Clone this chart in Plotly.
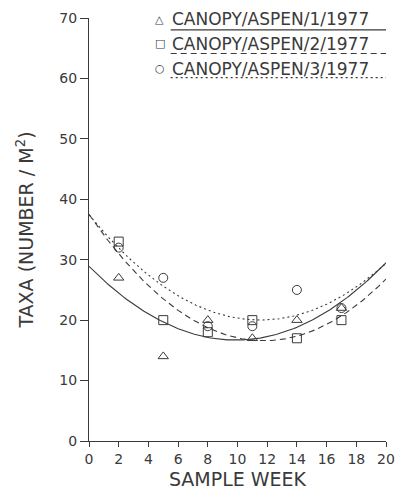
import numpy as np
import plotly.graph_objects as go

# Sample weeks and taxa counts for the three canopy/aspen plots (1977)
weeks = [2, 5, 8, 11, 14, 17]
aspen1 = [27, 14, 20, 17, 20, 22]
aspen2 = [33, 20, 18, 20, 17, 20]
aspen3 = [32, 27, 19, 19, 25, 22]

series_names = ["CANOPY/ASPEN/1/1977", "CANOPY/ASPEN/2/1977", "CANOPY/ASPEN/3/1977"]
x_ticks = list(range(0, 21, 2))
y_ticks = list(range(0, 71, 10))

INK = "#3a3a3a"
FONT = "DejaVu Sans"

series = [aspen1, aspen2, aspen3]
symbols = ["triangle-up-open", "square-open", "circle-open"]
dashes = ["solid", "6px,4px", "2px,3px"]
legend_glyphs = ["\u25b3", "\u25a1", "\u25cb"]

fig = go.Figure()

# Quadratic regression curve for each plot over the full week range
xfit = np.linspace(0, 20, 201)
for vals, dash in zip(series, dashes):
    coef = np.polyfit(weeks, vals, 2)
    fig.add_trace(go.Scatter(
        x=xfit, y=np.polyval(coef, xfit), mode="lines",
        line=dict(color=INK, width=1.1, dash=dash),
        showlegend=False, hoverinfo="skip"))

# Observed values
for vals, sym in zip(series, symbols):
    fig.add_trace(go.Scatter(
        x=weeks, y=vals, mode="markers",
        marker=dict(symbol=sym, size=9, color=INK, line=dict(width=1, color=INK)),
        showlegend=False))

# Hand-drawn style key: symbol, label and an underline in the curve's line style
row_y = [0.997, 0.939, 0.880]
line_y = [0.972, 0.916, 0.859]
for name, glyph, dash, ry, ly in zip(series_names, legend_glyphs, dashes, row_y, line_y):
    fig.add_annotation(x=0.238, y=ry, xref="paper", yref="paper", text=glyph,
                       showarrow=False, xanchor="center", yanchor="middle",
                       font=dict(family=FONT, size=11, color=INK))
    fig.add_annotation(x=0.272, y=ry, xref="paper", yref="paper", text=name,
                       showarrow=False, xanchor="left", yanchor="middle",
                       font=dict(family=FONT, size=17, color=INK))
    fig.add_shape(type="line", xref="paper", yref="paper",
                  x0=0.275, x1=1.0, y0=ly, y1=ly,
                  line=dict(color=INK, width=1.1, dash=dash))

fig.update_layout(
    width=405, height=496,
    margin=dict(l=89, r=10, t=16, b=54),
    paper_bgcolor="white", plot_bgcolor="white",
    font=dict(family=FONT, color=INK),
    xaxis=dict(range=[0, 20], tickvals=x_ticks, ticks="outside", ticklen=5,
               tickcolor=INK, showline=True, linecolor=INK, linewidth=1,
               showgrid=False, zeroline=False, tickfont=dict(size=14),
               title=dict(text="SAMPLE WEEK", font=dict(size=19), standoff=6)),
    yaxis=dict(range=[0, 70], tickvals=y_ticks, ticks="outside", ticklen=8,
               tickcolor=INK, showline=True, linecolor=INK, linewidth=1,
               showgrid=False, zeroline=False, tickfont=dict(size=14),
               title=dict(text="TAXA (NUMBER / M<sup>2</sup>)", font=dict(size=19),
                          standoff=20)),
)

fig.write_html("out.html")
